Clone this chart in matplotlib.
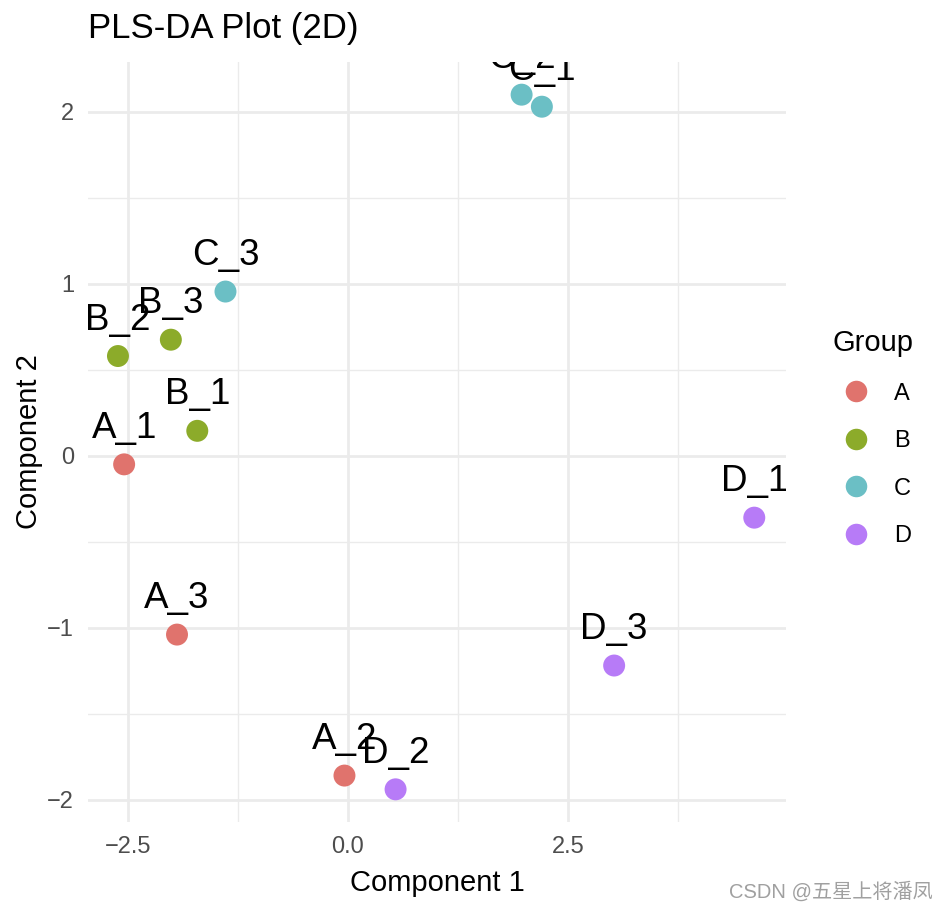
import matplotlib
matplotlib.use("Agg")
import matplotlib.pyplot as plt
from matplotlib.lines import Line2D
from matplotlib.ticker import MultipleLocator

plt.rcParams['font.family'] = ['Liberation Sans', 'Noto Sans CJK SC', 'DejaVu Sans']

# scores
samples = ["A_1", "A_2", "A_3", "B_1", "B_2", "B_3",
           "C_1", "C_2", "C_3", "D_1", "D_2", "D_3"]
groups = ["A", "A", "A", "B", "B", "B", "C", "C", "C", "D", "D", "D"]
comp1 = [-2.54, -0.04, -1.94, -1.71, -2.61, -2.01,
         2.20, 1.97, -1.39, 4.61, 0.54, 3.02]
comp2 = [-0.05, -1.86, -1.04, 0.145, 0.58, 0.675,
         2.03, 2.10, 0.955, -0.36, -1.94, -1.22]

group_names = ["A", "B", "C", "D"]
group_colors = ["#E0736D", "#8CAB2A", "#6BBFC5", "#B77BF7"]
col = dict(zip(group_names, group_colors))

fig = plt.figure(figsize=(9.47, 9.13), dpi=100)
ax = fig.add_axes([88 / 947, 1 - 822 / 913, (786 - 88) / 947, (822 - 62) / 913])

for x, y, g in zip(comp1, comp2, groups):
    ax.scatter(x, y, s=250, color=col[g], edgecolors='none', zorder=3)
for x, y, name in zip(comp1, comp2, samples):
    ax.annotate(name, (x, y), xytext=(0, 19), textcoords='offset points',
                ha='center', va='baseline', fontsize=26.5, color='black',
                zorder=4, annotation_clip=False, clip_on=True)

ax.set_xlim(-2.95, 4.97)
ax.set_ylim(-2.13, 2.29)
ax.xaxis.set_major_locator(MultipleLocator(2.5))
ax.xaxis.set_minor_locator(MultipleLocator(1.25))
ax.yaxis.set_major_locator(MultipleLocator(1))
ax.yaxis.set_minor_locator(MultipleLocator(0.5))
ax.grid(which='major', color='#EBEBEB', linewidth=2.0, zorder=0)
ax.grid(which='minor', color='#EBEBEB', linewidth=1.0, zorder=0)
ax.set_axisbelow(True)
for s in ax.spines.values():
    s.set_visible(False)
ax.tick_params(which='both', length=0, labelsize=17, labelcolor='#4D4D4D', pad=10)

ax.set_xlabel("Component 1", fontsize=21, labelpad=8)
ax.set_ylabel("Component 2", fontsize=21, labelpad=3)
ax.set_title("PLS-DA Plot (2D)", fontsize=25, loc='left', pad=17, x=-0.0)

handles = [Line2D([], [], marker='o', linestyle='none', markersize=15.5,
                  markerfacecolor=c, markeredgecolor='none') for c in group_colors]
leg = fig.legend(handles, group_names, title="Group", loc='upper left',
                 bbox_to_anchor=(811 / 947, 1 - 308 / 913), frameon=False,
                 fontsize=17, title_fontsize=21, labelspacing=1.08,
                 handletextpad=0.6, alignment='left')

fig.text(933 / 947, 1 - 898 / 913, "CSDN @五星上将潘凤", ha='right', va='baseline',
         fontsize=14.5, color='#A0A0A0')

fig.savefig("out.png", dpi=100)
